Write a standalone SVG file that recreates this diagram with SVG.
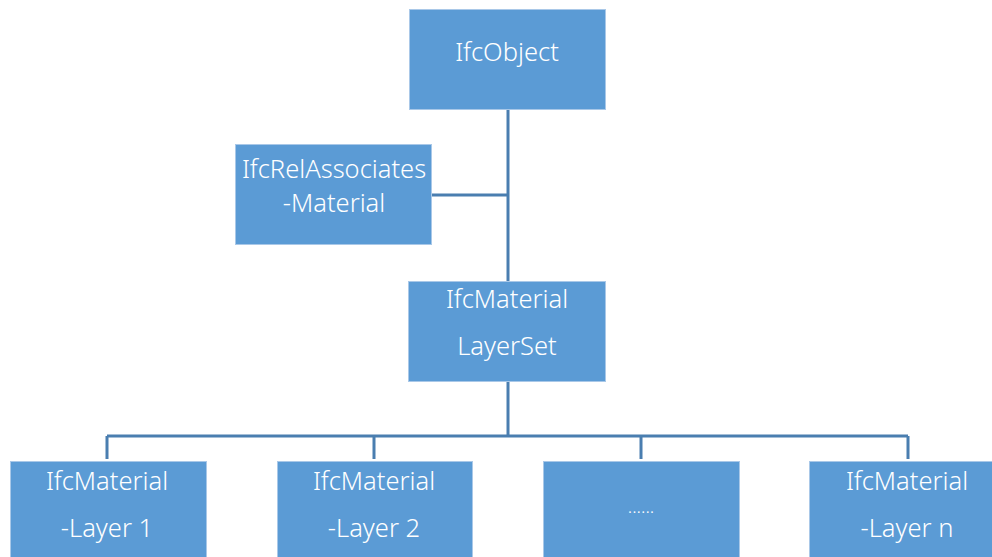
<svg xmlns="http://www.w3.org/2000/svg" width="992" height="557" viewBox="0 0 992 557">
<style>
.box{fill:#5B9BD5;stroke:#A9C8E8;stroke-width:1}
.t{font-family:"Noto Sans","Open Sans",sans-serif;font-size:25.5px;fill:#FFFFFF;text-anchor:middle;font-weight:300}
.c{fill:none;stroke:#4A7EB0;stroke-width:3}
</style>
<rect width="992" height="557" fill="#FFFFFF"/>
<g id="connectors">
<path class="c" d="M508 110 V281"/>
<path class="c" d="M432 195 H508"/>
<path class="c" d="M508 382 V436"/>
<path class="c" d="M107 436 H908"/>
<path class="c" d="M107 436 V459 M374 436 V459 M641 436 V459 M908 436 V459"/>
</g>
<g id="ifcobject">
<rect class="box" x="409.5" y="9.5" width="196" height="100"/>
<text class="t" x="507" y="61">IfcObject</text>
</g>
<g id="ifcrelassociates">
<rect class="box" x="235.5" y="144.5" width="196" height="100"/>
<text class="t" x="334" y="178">IfcRelAssociates</text>
<text class="t" x="334" y="212">-Material</text>
</g>
<g id="layerset">
<rect class="box" x="408.5" y="281.5" width="197" height="100"/>
<text class="t" x="507" y="308">IfcMaterial</text>
<text class="t" x="507" y="355">LayerSet</text>
</g>
<g id="layer1">
<rect class="box" x="10.5" y="461.5" width="196" height="100"/>
<text class="t" x="107" y="490">IfcMaterial</text>
<text class="t" x="107" y="537">-Layer 1</text>
</g>
<g id="layer2">
<rect class="box" x="277.5" y="461.5" width="195" height="100"/>
<text class="t" x="374" y="490">IfcMaterial</text>
<text class="t" x="374" y="537">-Layer 2</text>
</g>
<g id="layerdots">
<rect class="box" x="543.5" y="461.5" width="196" height="100"/>
<text class="t" x="641" y="513" style="font-size:18px">......</text>
</g>
<g id="layern">
<rect class="box" x="809.5" y="461.5" width="196" height="100"/>
<text class="t" x="907" y="490">IfcMaterial</text>
<text class="t" x="907" y="537">-Layer n</text>
</g>
</svg>
